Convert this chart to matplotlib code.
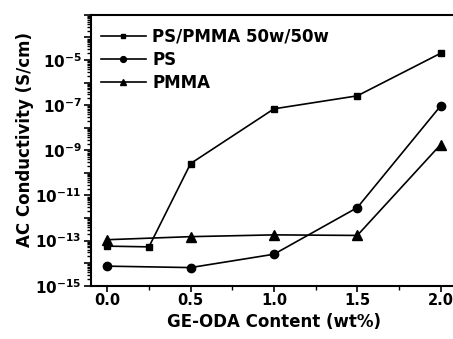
import matplotlib
matplotlib.use("Agg")
import math
import matplotlib.pyplot as plt
from matplotlib.ticker import LogLocator, FixedLocator, FuncFormatter, MultipleLocator, NullFormatter

plt.rcParams['font.family'] = ['DejaVu Sans']
plt.rcParams['font.weight'] = 'bold'
plt.rcParams['mathtext.fontset'] = 'dejavusans'
plt.rcParams['mathtext.default'] = 'bf'

content = [0.0, 0.25, 0.5, 1.0, 1.5, 2.0]
blend = [5.7e-14, 5.3e-14, 2.6e-10, 6.9e-8, 2.6e-7, 2.0e-5]
content_ps = [0.0, 0.5, 1.0, 1.5, 2.0]
ps = [7.4e-15, 6.4e-15, 2.5e-14, 2.9e-12, 9.3e-8]
content_pmma = [0.0, 0.5, 1.0, 1.5, 2.0]
pmma = [1.1e-13, 1.5e-13, 1.8e-13, 1.7e-13, 1.8e-9]

fig = plt.figure(figsize=(4.53, 3.39), dpi=100)
ax = fig.add_axes([0.2, 0.157, 0.8095, 0.799])

ax.plot(content, blend, '-s', color='black', lw=1.2, ms=5, label='PS/PMMA 50w/50w')
ax.plot(content_ps, ps, '-o', color='black', lw=1.2, ms=6, label='PS')
ax.plot(content_pmma, pmma, '-^', color='black', lw=1.2, ms=6.5, label='PMMA')

ax.set_yscale('log')
ax.set_ylim(1e-15, 1e-3)
ax.set_xlim(-0.1, 2.1)

ax.xaxis.set_major_locator(MultipleLocator(0.5))
ax.xaxis.set_minor_locator(MultipleLocator(0.25))
ax.xaxis.set_major_formatter(FuncFormatter(lambda v, p: f"{v:.1f}"))

ax.yaxis.set_major_locator(FixedLocator([10.0**e for e in range(-15, -2)]))
def yfmt(v, p):
    e = int(round(math.log10(v)))
    if e % 2 != 0 and e <= -5:
        return r'$\mathbf{10^{%d}}$' % e
    return ''
ax.yaxis.set_major_formatter(FuncFormatter(yfmt))
ax.yaxis.set_minor_locator(LogLocator(base=10, subs=range(2, 10), numticks=50))
ax.yaxis.set_minor_formatter(NullFormatter())

ax.tick_params(axis='x', which='major', direction='out', length=4, width=1.2, labelsize=10.5, pad=1.5)
ax.tick_params(axis='y', which='major', direction='out', length=5, width=1.2, labelsize=11, pad=1.5)
ax.tick_params(axis='both', which='minor', direction='out', length=3, width=1.0)
ax.tick_params(top=False, right=False, which='both')
for s in ax.spines.values():
    s.set_linewidth(1.5)

ax.set_xlabel('GE-ODA Content (wt%)', fontsize=12, fontweight='bold', labelpad=3)
ax.set_ylabel('AC Conductivity (S/cm)', fontsize=12, fontweight='bold', labelpad=2)
ax.yaxis.set_label_coords(-0.155, 0.54)

leg = ax.legend(loc='upper left', frameon=False, fontsize=12, handlelength=2.7,
                labelspacing=0.3, handletextpad=0.4, borderaxespad=0.2,
                markerscale=0.7, bbox_to_anchor=(0.0, 0.99))

fig.savefig('out.png', dpi=100)
